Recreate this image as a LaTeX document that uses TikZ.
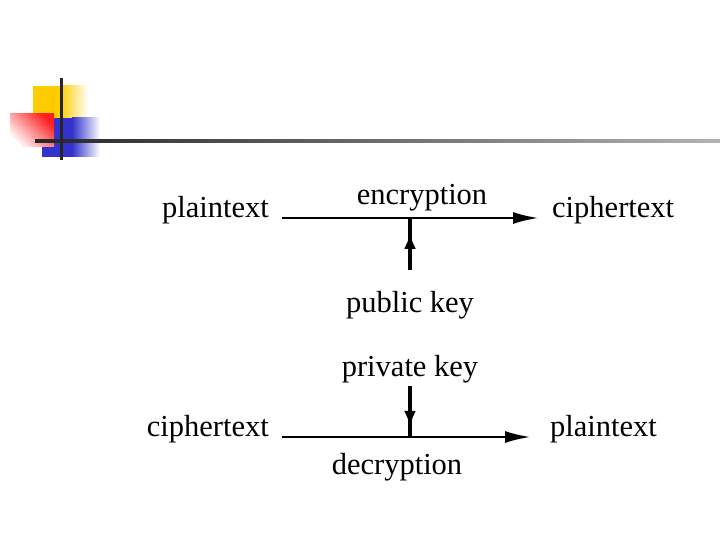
\documentclass[tikz,border=0pt]{standalone}
\usepackage{fontspec}
\setmainfont{Liberation Serif}
\usetikzlibrary{arrows.meta, decorations.markings}
\definecolor{logoyellow}{RGB}{255,204,0}
\definecolor{logoblue}{RGB}{51,51,204}
\definecolor{logored}{RGB}{255,30,30}

\begin{document}
\begin{tikzpicture}[x=1bp, y=1bp, font=\fontsize{30.5bp}{36bp}\selectfont]
      % Styles
      \tikzset{term/.style={inner xsep=13bp, inner ysep=2bp}}
      \tikzset{keyterm/.style={inner xsep=0pt, anchor=base}}
      \tikzset{channel/.style={line width=2.8bp, -{Latex[length=26bp, width=12bp]}}}
      \tikzset{keyflow/.style={line width=3.4bp, postaction={decorate},
          decoration={markings, mark=at position #1 with {\arrow{Latex[length=16bp, width=12bp]}}}}}

      \useasboundingbox (0,0) rectangle (720,540);

      % --- Logo in the top left corner ---
      \fill[logoyellow] (33,422) rectangle (60,454);
      \shade[left color=logoyellow, right color=white] (60,422) rectangle (88,454);
      \fill[logoblue] (42,383) rectangle (72,422);
      \shade[left color=logoblue, right color=white] (72,383) rectangle (100,422);
      \shade[top color=logored, bottom color=white, shading angle=-45] (10,393) rectangle (54,426);
      \shade[left color=black!85, right color=gray!60] (35,397.5) rectangle (720,400.5);
      \draw[line width=3bp, black!85] (61,462) -- (61,380);

      % --- Encryption with the public key ---
      \node[term, anchor=base east] (plainA) at (282,322) {plaintext};
      \node[term, anchor=base west] (cipherA) at (539,322) {ciphertext};
      \node[keyterm] (encLabel) at (422,335) {encryption};
      \node[keyterm, inner ysep=22bp] (pubkey) at (410,227) {public key};
      \coordinate (encjoin) at (410,322);
      \draw[channel] (plainA.base east) -- (cipherA.base west);
      \draw[keyflow=0.71] (pubkey.north) -- (encjoin);

      % --- Decryption with the private key ---
      \node[term, anchor=base east] (cipherB) at (282,103) {ciphertext};
      \node[term, anchor=base west] (plainB) at (537,103) {plaintext};
      \node[keyterm] (decLabel) at (397,65) {decryption};
      \node[keyterm, inner ysep=2.4bp] (privkey) at (410,163) {private key};
      \coordinate (decjoin) at (410,103);
      \draw[channel, shorten >=6bp] (cipherB.base east) -- (plainB.base west);
      \draw[keyflow=0.80] (privkey.south) -- (decjoin);

    \end{tikzpicture}
\end{document}
